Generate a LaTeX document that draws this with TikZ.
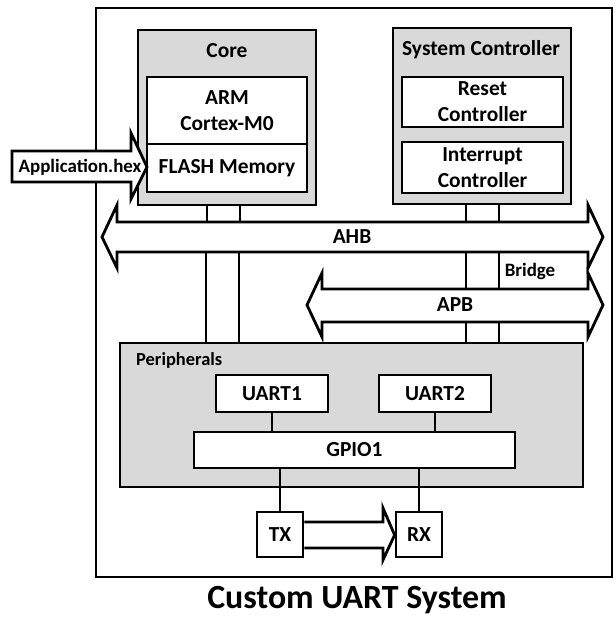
\documentclass[tikz,border=0pt]{standalone}
\usepackage{fontspec}
\setmainfont{Carlito}
\definecolor{boxgray}{RGB}{217,217,217}
\newcommand\lblfont{\bfseries\fontsize{21.5}{26}\selectfont}
\newcommand\smallfont{\bfseries\fontsize{19}{22}\selectfont}
\newcommand\perfont{\bfseries\fontsize{18.5}{22}\selectfont}
\newcommand\titlefont{\bfseries\fontsize{34}{38}\selectfont}
\tikzset{
  box/.style={draw, line width=2.8bp, fill=white, align=center, inner sep=0pt, font=\lblfont},
  grp/.style={draw, line width=2.8bp, fill=boxgray, inner sep=0pt},
  conn/.style={line width=1.8bp},
  bus/.style={draw, line width=2.8bp, fill=white, line join=miter, miter limit=10},
  lbl/.style={font=\lblfont, inner sep=0pt, align=center},
  slbl/.style={font=\smallfont, inner sep=0pt},
}
\begin{document}
\begin{tikzpicture}[x=1bp, y=-1bp]
\useasboundingbox (0,0) rectangle (616,619);
% outer frame
\node[draw, line width=2.8bp, minimum width=516bp, minimum height=569bp, inner sep=0pt] (frame) at (354,292.5) {};
% core
\node[grp, minimum width=178bp, minimum height=175bp] (core) at (227,117.5) {};
\node[lbl] (coret) at (227,51) {Core};
\node[box, minimum width=160bp, minimum height=67bp] (arm) at (227,110.5) {ARM\\Cortex-M0};
\node[box, minimum width=160bp, minimum height=48bp] (flash) at (227,168) {FLASH Memory};
% system controller
\node[grp, minimum width=178bp, minimum height=176bp] (sys) at (482,116) {};
\node[lbl] (syst) at (481,50) {System Controller};
\node[box, minimum width=161bp, minimum height=50bp] (reset) at (482.5,102) {Reset\\Controller};
\node[box, minimum width=161bp, minimum height=51bp] (intr) at (482.5,167.5) {Interrupt\\Controller};
% application arrow
\draw[bus] (12,151) -- (131,151) -- (131,133) -- (147,167) -- (131,199) -- (131,182) -- (12,182) -- cycle;
\node[slbl] (app) at (80,167) {Application.hex};
% AHB bus
\draw[bus] (102,237) -- (117,205) -- (117,222) -- (588,222) -- (588,205) -- (603,237) -- (588,268) -- (588,252) -- (117,252) -- (117,268) -- cycle;
\node[lbl] (ahb) at (352,237) {AHB};
\coordinate (ahbT1) at (207,222);
\coordinate (ahbT2) at (240,222);
\coordinate (ahbT3) at (466,222);
\coordinate (ahbT4) at (499,222);
\coordinate (ahbB1) at (206,252);
\coordinate (ahbB2) at (239,252);
\coordinate (ahbB3) at (466,252);
\coordinate (ahbB4) at (499,252);
% APB bus
\draw[bus] (307,305) -- (322,273) -- (322,289) -- (588,289) -- (588,273) -- (603,305) -- (588,337) -- (588,322) -- (322,322) -- (322,337) -- cycle;
\node[lbl] (apb) at (455,305) {APB};
\coordinate (apbT3) at (466,289);
\coordinate (apbT4) at (499,289);
\coordinate (apbB3) at (466,322);
\coordinate (apbB4) at (499,322);
\node[slbl] (bridge) at (530,271) {Bridge};
% peripherals
\node[grp, minimum width=463bp, minimum height=144bp] (periph) at (351.5,415) {};
\node[font=\perfont, inner sep=0pt, anchor=west] (periphT) at (136,360) {Peripherals};
\node[box, minimum width=112bp, minimum height=37bp] (uart1) at (272,393.5) {UART1};
\node[box, minimum width=112bp, minimum height=37bp] (uart2) at (435,393.5) {UART2};
\node[box, minimum width=321bp, minimum height=36bp] (gpio) at (354.5,450) {GPIO1};
\node[box, minimum width=46bp, minimum height=45bp] (tx) at (280,534.5) {TX};
\node[box, minimum width=46bp, minimum height=45bp] (rx) at (419,534.5) {RX};
% TX -> RX arrow
\draw[bus] (tx.east |- 0,522) -- (383,522) -- (383,508) -- (rx.west |- 0,535) -- (383,560) -- (383,548) -- (tx.east |- 0,548);
% connectors
\draw[conn] (core.south -| ahbT1) -- (ahbT1);
\draw[conn] (core.south -| ahbT2) -- (ahbT2);
\draw[conn] (sys.south -| ahbT3) -- (ahbT3);
\draw[conn] (sys.south -| ahbT4) -- (ahbT4);
\draw[conn] (ahbB1) -- (ahbB1 |- periph.north);
\draw[conn] (ahbB2) -- (ahbB2 |- periph.north);
\draw[conn] (ahbB3) -- (apbT3);
\draw[conn] (ahbB4) -- (apbT4);
\draw[conn] (apbB3) -- (apbB3 |- periph.north);
\draw[conn] (apbB4) -- (apbB4 |- periph.north);
\draw[conn] (uart1) -- (uart1 |- gpio.north);
\draw[conn] (uart2) -- (uart2 |- gpio.north);
\draw[conn] (gpio.south -| tx) -- (tx.north);
\draw[conn] (gpio.south -| rx) -- (rx.north);
% title
\node[font=\titlefont, inner sep=0pt] (title) at (357,600) {Custom UART System};
\end{tikzpicture}
\end{document}
